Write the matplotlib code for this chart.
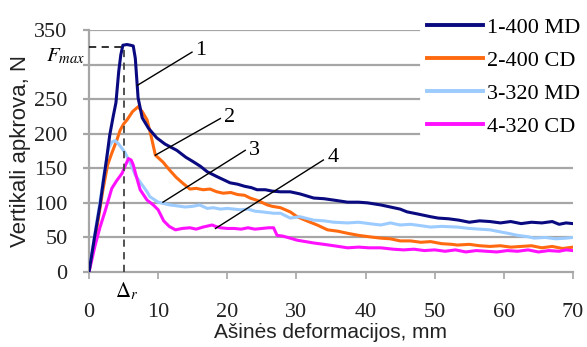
import matplotlib
matplotlib.use("Agg")
import matplotlib.pyplot as plt

# Kreivių duomenys (nuskaityti nuo paveikslo)
x_md400 = [0, 0.8, 1.6, 2.1, 2.5, 3.0, 3.5, 3.9, 4.3, 4.6, 4.9, 5.5, 6.0, 6.4, 6.7, 7.1, 7.7,
           8.6, 9.8, 11.0, 12.7, 14.0, 15.0, 16.1, 17.1, 18.5, 20.4, 21.5, 22.5, 23.5, 24.3,
           25.5, 26.5, 27.7, 29.1, 30.5, 32.5, 34.0, 35.4, 37.4, 39.0, 40.3, 42.2, 43.6, 45.0,
           46.0, 47.5, 49.4, 50.5, 52.0, 53.5, 55.0, 56.5, 58.0, 59.5, 61.0, 62.5, 64.0, 65.5,
           67.0, 68.0, 69.0, 70.0]
y_md400 = [0, 50, 97, 133, 160, 198, 225, 245, 290, 314, 328, 329, 328, 327, 309, 252, 223,
           208, 194, 185, 176, 166, 160, 153, 145, 138, 129, 127, 124, 122, 119,
           119, 117, 116, 116, 113, 107, 106, 104, 101, 101, 100, 97, 94, 91,
           87, 84, 80, 78, 77, 75, 72, 74, 73, 71, 73, 70, 72, 71,
           73, 69, 71, 70]

x_cd400 = [0, 1.0, 2.0, 2.7, 3.3, 4.0, 4.5, 5.0, 5.5, 6.3, 7.1, 7.7, 8.4, 9.0, 9.6, 10.7,
           11.7, 12.6, 13.5, 14.6, 15.5, 16.5, 17.5, 18.5, 19.4, 20.5, 21.5, 22.5, 23.3, 24.5,
           25.8, 26.5, 27.7, 29.1, 30.1, 31.5, 33.0, 34.5, 36.0, 37.4, 39.0, 40.5, 42.2, 43.6,
           45.0, 46.5, 48.0, 49.4, 51.0, 52.5, 53.3, 55.0, 56.5, 58.0, 59.5, 61.0, 62.5, 64.0,
           65.5, 67.0, 68.5, 70.0]
y_cd400 = [0, 55, 118, 155, 172, 190, 205, 214, 220, 232, 239, 232, 220, 196, 169, 159,
           147, 137, 129, 120, 121, 119, 120, 116, 114, 115, 112, 111, 107, 103,
           97, 95, 93, 87, 80, 74, 68, 61, 59, 56, 53, 51, 49, 48,
           45, 45, 43, 44, 41, 40, 39, 40, 38, 37, 38, 36, 37, 38,
           35, 37, 34, 36]

x_md320 = [0, 1.0, 1.8, 2.3, 2.8, 3.3, 3.8, 4.3, 5.2, 6.0, 6.7, 7.4, 8.4, 8.8, 10.0, 11.7,
           12.5, 13.9, 15.0, 16.0, 17.1, 18.0, 19.0, 20.0, 21.9, 23.0, 24.0, 25.0, 26.7, 27.7,
           29.1, 30.5, 32.5, 34.0, 35.4, 37.4, 39.0, 40.5, 42.2, 43.6, 45.0, 46.5, 48.0, 49.4,
           51.0, 53.3, 55.0, 56.5, 58.0, 59.0, 60.6, 62.0, 63.5, 64.4, 66.0, 67.5, 69.0, 70.0]
y_md320 = [0, 65, 115, 150, 178, 188, 190, 185, 173, 157, 140, 130, 116, 109, 101, 97,
           96, 94, 95, 97, 92, 93, 91, 92, 90, 91, 88, 87, 85, 85,
           78, 80, 75, 74, 72, 71, 72, 70, 68, 71, 68, 69, 67, 65,
           66, 65, 63, 62, 61, 59, 56, 53, 51, 49, 50, 48, 49, 50]

x_cd320 = [0, 0.9, 1.6, 2.3, 2.8, 3.3, 4.0, 4.8, 5.3, 5.7, 6.1, 6.4, 6.8, 7.4, 8.4, 9.3,
           10.0, 10.8, 11.6, 12.5, 13.5, 14.6, 15.5, 16.5, 17.8, 18.3, 19.0, 20.0, 21.0, 22.0,
           23.0, 24.0, 25.0, 26.0, 26.7, 27.2, 28.0, 29.1, 30.1, 31.3, 32.5, 34.0, 35.4, 37.4,
           39.0, 40.5, 42.2, 44.0, 45.5, 47.0, 48.5, 50.0, 51.5, 53.0, 54.5, 56.0, 57.5, 59.0,
           60.5, 62.0, 63.5, 65.0, 66.5, 68.0, 69.0, 70.0]
y_cd320 = [0, 39, 65, 87, 104, 121, 132, 143, 155, 164, 162, 155, 140, 119, 104, 97,
           90, 74, 66, 61, 63, 64, 62, 65, 68, 66, 64, 63, 63, 62,
           64, 62, 63, 64, 64, 53, 52, 49, 46, 44, 42, 40, 38, 35,
           36, 35, 35, 33, 32, 33, 31, 32, 30, 32, 29, 31, 30, 29,
           31, 30, 32, 29, 31, 30, 32, 31]

series_labels = ['1-400 MD', '2-400 CD', '3-320 MD', '4-320 CD']
series_colors = ['#0a0a80', '#ff6a10', '#9ccbff', '#ff10ff']
y_ticks = [0, 50, 100, 150, 200, 250, 300, 350]
y_tick_labels = ['0', '50', '100', '150', '200', '250', '', '350']  # 300 vietoje - Fmax
x_ticks = [0, 10, 20, 30, 40, 50, 60, 70]

F_MAX = 326
DELTA_R = 5.0

SERIF = 'Liberation Serif'
SANS = 'Liberation Sans'
GRID_C = '#a6a6a6'

plt.rcParams['mathtext.fontset'] = 'stix'

fig = plt.figure(figsize=(5.87, 3.47), dpi=100)
ax = fig.add_axes([0.1516, 0.2161, 0.8245, 0.6974])
ax.set_xlim(0, 70)
ax.set_ylim(0, 350)

# tinklelis: viršutines linijas dengia legenda
for yv in y_ticks[1:]:
    xmax = 47.7 if yv >= 200 else 70
    ax.plot([0, xmax], [yv, yv], color=GRID_C, lw=1.6, zorder=1)

data = [(x_md400, y_md400), (x_cd400, y_cd400), (x_md320, y_md320), (x_cd320, y_cd320)]
lines = []
for (xs, ys), lab, col in zip(data, series_labels, series_colors):
    ln, = ax.plot(xs, ys, color=col, lw=2.2, label=lab, zorder=3,
                  solid_joinstyle='round')
    lines.append(ln)
# tamsiai mėlyna virš kitų
lines[0].set_zorder(4)

# Fmax ir Δr brūkšninės linijos
ax.plot([0, DELTA_R], [F_MAX, F_MAX], color='#222222', lw=1.3, ls=(0, (4, 3)), zorder=5)
ax.plot([DELTA_R, DELTA_R], [0, F_MAX], color='#444444', lw=1.3, ls=(0, (4, 3)), zorder=5)
ax.text(-0.6, 312, '$F_{max}$', ha='right', va='center', fontsize=15, clip_on=False)
ax.text(5.4, -27, r'$\mathit{\Delta}_r$', ha='center', va='center', fontsize=15, clip_on=False)

# kreivių numeriai
leaders = [((7.0, 270), (14.9, 318), '1', (16.2, 321)),
           ((9.6, 169), (19.0, 222), '2', (20.3, 224)),
           ((10.7, 101), (22.6, 176), '3', (23.9, 176)),
           ((18.3, 63), (33.9, 162), '4', (35.3, 166))]
for (x0, y0), (x1, y1), txt, (tx, ty) in leaders:
    ax.plot([x0, x1], [y0, y1], color='black', lw=1.0, zorder=6)
    ax.text(tx, ty, txt, fontsize=16, family=SERIF, ha='center', va='center')

for side in ['top', 'right']:
    ax.spines[side].set_visible(False)
for side in ['left', 'bottom']:
    ax.spines[side].set_color(GRID_C)
    ax.spines[side].set_linewidth(1.6)

ax.set_xticks(x_ticks)
ax.set_yticks(y_ticks)
ax.set_yticklabels(y_tick_labels)
ax.tick_params(axis='x', direction='out', length=5, width=1.2, color=GRID_C, pad=17,
               labelsize=16)
ax.tick_params(axis='y', direction='out', length=4.5, width=1.6, color=GRID_C, pad=11,
               labelsize=16)
for lbl in ax.get_xticklabels() + ax.get_yticklabels():
    lbl.set_family(SERIF)
    lbl.set_color('#222222')

ax.set_xlabel('Ašinės deformacijos, mm', family=SANS, fontsize=15, color='#222222',
              labelpad=1)
ax.set_ylabel('Vertikali apkrova, N', family=SANS, fontsize=16, color='#222222',
              labelpad=2)

leg = ax.legend(loc='upper left', bbox_to_anchor=(0.7274, 0.95),
                bbox_transform=fig.transFigure, frameon=False, borderpad=0,
                borderaxespad=0, handlelength=2.5, handletextpad=0.2,
                labelspacing=0.56, prop={'family': SERIF, 'size': 16})
for h in leg.legend_handles:
    h.set_linewidth(2.8)

fig.savefig('out.png', dpi=100)
